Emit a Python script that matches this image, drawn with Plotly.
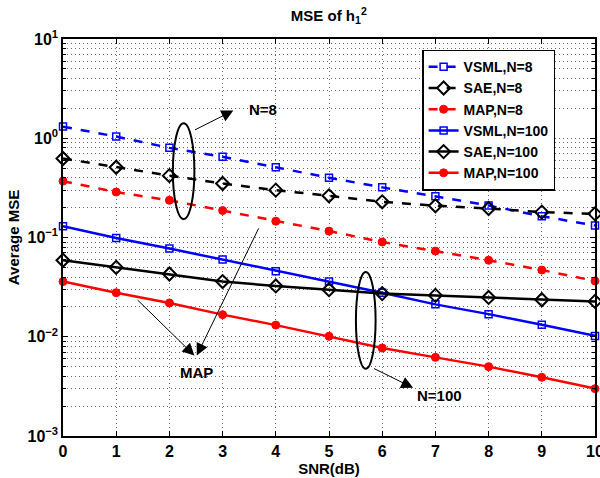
import plotly.graph_objects as go

snr = [0, 1, 2, 3, 4, 5, 6, 7, 8, 9, 10]
vsml_n8 = [1.31, 1.04, 0.80, 0.65, 0.51, 0.40, 0.32, 0.26, 0.21, 0.164, 0.132]
sae_n8 = [0.625, 0.51, 0.42, 0.35, 0.30, 0.263, 0.229, 0.209, 0.196, 0.18, 0.173]
map_n8 = [0.37, 0.287, 0.237, 0.187, 0.146, 0.116, 0.090, 0.073, 0.059, 0.047, 0.0365]
vsml_n100 = [0.130, 0.099, 0.0774, 0.060, 0.0457, 0.036, 0.0278, 0.0212, 0.0169, 0.0132, 0.0102]
sae_n100 = [0.059, 0.050, 0.0429, 0.036, 0.0325, 0.0298, 0.0272, 0.0261, 0.0249, 0.0236, 0.0227]
map_n100 = [0.036, 0.0278, 0.0219, 0.0167, 0.0131, 0.0101, 0.0077, 0.0062, 0.0050, 0.0039, 0.0030]

y_tickvals = [1e-3, 1e-2, 1e-1, 1e0, 1e1]
y_ticktext = ["10<sup>−3</sup>", "10<sup>−2</sup>", "10<sup>−1</sup>", "10<sup>0</sup>", "10<sup>1</sup>"]
minor_vals = [m * 10.0 ** k for k in range(-3, 1) for m in range(2, 10)]

FONT = "Liberation Sans"
BLUE = "#0000ff"
RED = "#ff0000"
BLACK = "#000000"
GRID = "rgba(0,0,0,0.6)"
GDASH = "1px,3px"

fig = go.Figure()

def add(y, name, color, dash, symbol, size, mfill, mlw):
    fig.add_trace(go.Scatter(
        x=snr, y=y, name=name, mode="lines+markers", cliponaxis=False,
        line=dict(color=color, width=2.5, dash=dash),
        marker=dict(symbol=symbol, size=size, color=mfill,
                    line=dict(color=color, width=mlw)),
    ))

add(vsml_n8, "VSML,N=8", BLUE, "dash", "square-open", 7, BLUE, 1.5)
add(sae_n8, "SAE,N=8", BLACK, "dash", "diamond-open", 10, BLACK, 2)
add(map_n8, "MAP,N=8", RED, "dash", "circle", 8, RED, 1)
add(vsml_n100, "VSML,N=100", BLUE, "solid", "square-open", 7, BLUE, 1.5)
add(sae_n100, "SAE,N=100", BLACK, "solid", "diamond-open", 10, BLACK, 2)
add(map_n100, "MAP,N=100", RED, "solid", "circle", 8, RED, 1)

# Ellipses (shapes use data values on log axes)
fig.add_shape(type="circle", xref="x", yref="y", x0=2.065, x1=2.47, y0=0.153, y1=1.42,
              line=dict(color="black", width=2))
fig.add_shape(type="circle", xref="x", yref="y", x0=5.506, x1=5.876, y0=0.00475, y1=0.045,
              line=dict(color="black", width=2))

# Arrows (annotations use log10 values on log axes)
arrows = [
    ((3.203, 0.279), (2.452, 0.0768)),
    ((6.582, -2.515), (5.819, -2.313)),
    ((2.470, -2.189), (1.376, -1.616)),
    ((2.515, -2.189), (3.691, -0.893)),
]
for (hx, hy), (tx, ty) in arrows:
    fig.add_annotation(x=hx, y=hy, ax=tx, ay=ty, xref="x", yref="y", axref="x", ayref="y",
                       text="", showarrow=True, arrowhead=2, arrowsize=2.4, arrowwidth=1,
                       arrowcolor="black")

texts = [("N=8", 3.766, 0.286), ("N=100", 7.083, -2.592), ("MAP", 2.515, -2.358)]
for t, x, y in texts:
    fig.add_annotation(x=x, y=y, xref="x", yref="y", text=t, showarrow=False,
                       font=dict(family=FONT, size=15, color="black", weight="bold"))

fig.update_layout(
    width=600, height=478,
    margin=dict(l=63, r=5, t=39, b=42),
    paper_bgcolor="white", plot_bgcolor="white",
    font=dict(family=FONT, color="black"),
    title=dict(text="MSE of h<sub>1</sub><sup>2</sup>", x=0.548, xanchor="center",
               y=0.967, yanchor="middle",
               font=dict(family=FONT, size=15, color="black", weight="bold")),
    legend=dict(x=0.675, y=0.973, xanchor="left", yanchor="top",
                bgcolor="white", bordercolor="black", borderwidth=1.5,
                font=dict(family=FONT, size=14, color="black", weight="bold"),
                tracegroupgap=0, itemwidth=30),
    showlegend=True,
)

fig.update_xaxes(
    range=[0, 10], tickvals=snr, ticktext=[str(v) for v in snr], automargin=False,
    ticklabeloverflow="allow",
    tickfont=dict(family=FONT, size=16, color="black", weight="bold"),
    title=dict(text="SNR(dB)", font=dict(family=FONT, size=15, color="black", weight="bold"),
               standoff=2),
    showline=True, linecolor="black", linewidth=1.5, mirror="ticks",
    ticks="inside", ticklen=5, tickcolor="black",
    showgrid=True, gridcolor=GRID, griddash=GDASH, gridwidth=1,
    zeroline=False,
)
fig.update_yaxes(
    type="log", range=[-3, 1], tickvals=y_tickvals, ticktext=y_ticktext, automargin=False,
    tickfont=dict(family=FONT, size=16, color="black", weight="bold"),
    title=dict(text="Average MSE", font=dict(family=FONT, size=15, color="black", weight="bold"),
               standoff=4),
    showline=True, linecolor="black", linewidth=1.5, mirror="ticks",
    ticks="inside", ticklen=5, tickcolor="black",
    showgrid=True, gridcolor=GRID, griddash=GDASH, gridwidth=1,
    minor=dict(tickmode="array", tickvals=minor_vals, ticks="inside", ticklen=3,
               tickcolor="black", showgrid=True, gridcolor=GRID,
               griddash=GDASH, gridwidth=1),
    zeroline=False,
)

fig.write_html("out.html", config={"displayModeBar": False},
               post_script="document.body.style.margin='0';document.body.style.padding='0';")
